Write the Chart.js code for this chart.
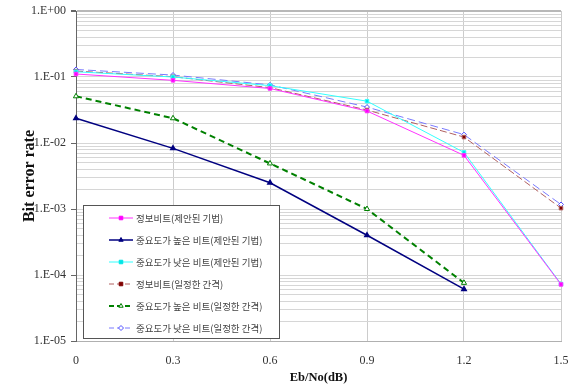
<!DOCTYPE html>
<html>
<head>
<meta charset="utf-8">
<script src="https://cdn.jsdelivr.net/npm/chart.js@4/dist/chart.umd.min.js"></script>
<style>
  html, body { margin: 0; padding: 0; background: #fff; }
  #wrap { position: relative; width: 574px; height: 388px; }
</style>
</head>
<body>
<div id="wrap"><canvas id="c" width="574" height="388"></canvas></div>
<script>
// Eb/No values (dB)
const xValues = [0, 0.3, 0.6, 0.9, 1.2, 1.5];
const xTickLabels = ['0', '0.3', '0.6', '0.9', '1.2', '1.5'];
const yTickLabels = ['1.E-05', '1.E-04', '1.E-03', '1.E-02', '1.E-01', '1.E+00'];

const seriesNames = [
    '정보비트(제안된 기법)',
    '중요도가 높은 비트(제안된 기법)',
    '중요도가 낮은 비트(제안된 기법)',
    '정보비트(일정한 간격)',
    '중요도가 높은 비트(일정한 간격)',
    '중요도가 낮은 비트(일정한 간격)'
];

// bit error rates
const infoProposed = [0.111, 0.089, 0.067, 0.0305, 0.0065, 0.000072];
const highProposed = [0.0237, 0.0083, 0.0025, 0.00040, 0.000061];
const lowProposed = [0.12, 0.100, 0.074, 0.043, 0.0072, 0.000073];
const infoUniform = [0.123, 0.101, 0.069, 0.0316, 0.0123, 0.00103];
const highUniform = [0.051, 0.0237, 0.0049, 0.00100, 0.000076];
const lowUniform = [0.130, 0.107, 0.076, 0.035, 0.0134, 0.00117];

const toPoints = (vals) => vals.map((v, i) => ({ x: xValues[i], y: v }));

const datasets = [
    { label: seriesNames[0], data: toPoints(infoProposed), borderColor: '#ff33ff', backgroundColor: '#ff00ff',
      borderWidth: 1, pointStyle: 'rect', pointRadius: 2.5 },
    { label: seriesNames[1], data: toPoints(highProposed), borderColor: '#000080', backgroundColor: '#000080',
      borderWidth: 1.5, pointStyle: 'triangle', pointRadius: 2.5 },
    { label: seriesNames[2], data: toPoints(lowProposed), borderColor: '#33ffff', backgroundColor: '#00e5e5',
      borderWidth: 1, pointStyle: 'rect', pointRadius: 2.5 },
    { label: seriesNames[3], data: toPoints(infoUniform), borderColor: '#b06060', backgroundColor: '#800000',
      borderWidth: 1, borderDash: [7, 3], pointStyle: 'rect', pointRadius: 2.5 },
    { label: seriesNames[4], data: toPoints(highUniform), borderColor: '#008000', backgroundColor: '#ffffff',
      pointBorderColor: '#008000', borderWidth: 2, borderDash: [6, 4], pointStyle: 'triangle', pointRadius: 3, pointBorderWidth: 1 },
    { label: seriesNames[5], data: toPoints(lowUniform), borderColor: '#7a7aff', backgroundColor: '#ffffff',
      pointBorderColor: '#5050ff', borderWidth: 1, borderDash: [8, 4], pointStyle: 'rectRot', pointRadius: 2.5, pointBorderWidth: 1 }
];

datasets.forEach(d => { d.fill = false; d.tension = 0; d.clip = false; });

// legend drawn inside the plot, like the spreadsheet original
const boxLegend = {
    id: 'boxLegend',
    afterDraw(chart) {
        const ctx = chart.ctx;
        const bx = 83, by = 205, bw = 196, bh = 133;
        ctx.save();
        ctx.fillStyle = '#ffffff';
        ctx.fillRect(bx, by, bw, bh);
        ctx.strokeStyle = '#555555';
        ctx.lineWidth = 1;
        ctx.strokeRect(bx + 0.5, by + 0.5, bw, bh);
        chart.data.datasets.forEach((ds, i) => {
            const y = by + 13 + i * 22;
            ctx.save();
            ctx.strokeStyle = ds.borderColor;
            ctx.lineWidth = ds.borderWidth;
            ctx.setLineDash(ds.borderDash ? [5, 3] : []);
            ctx.beginPath();
            ctx.moveTo(109, y);
            ctx.lineTo(133, y);
            ctx.stroke();
            ctx.restore();
            ctx.save();
            ctx.fillStyle = ds.backgroundColor;
            ctx.strokeStyle = ds.pointBorderColor || ds.backgroundColor;
            ctx.lineWidth = 1;
            Chart.helpers.drawPoint(ctx, { pointStyle: ds.pointStyle, radius: 2.5, rotation: 0, borderWidth: 1 }, 121, y);
            ctx.restore();
            ctx.fillStyle = '#444444';
            ctx.font = '9.5px "Noto Sans CJK KR"';
            ctx.textBaseline = 'middle';
            ctx.fillText(ds.label, 136, y);
        });
        ctx.restore();
    }
};

const isDecade = (v) => Math.abs(Math.log10(v) - Math.round(Math.log10(v))) < 1e-6;

new Chart(document.getElementById('c'), {
    type: 'line',
    data: { datasets },
    plugins: [boxLegend],
    options: {
        responsive: false,
        animation: false,
        devicePixelRatio: 1,
        layout: { padding: { top: 11, right: 13, left: 20, bottom: 3 } },
        plugins: {
            legend: { display: false },
            tooltip: { enabled: false }
        },
        scales: {
            x: {
                type: 'linear',
                min: 0,
                max: 1.5,
                afterBuildTicks: (scale) => { scale.ticks = xValues.map(v => ({ value: v })); },
                afterFit: (scale) => { scale.height = 44; scale.paddingLeft = 0; scale.paddingRight = 0; },
                ticks: {
                    callback: (value, index) => xTickLabels[index],
                    font: { family: '"Liberation Serif"', size: 12 },
                    color: '#333',
                    padding: 13,
                    maxRotation: 0
                },
                grid: { color: '#cccccc', lineWidth: 1, tickLength: 0 },
                border: { color: '#b0b0b0', width: 1 },
                title: {
                    display: true,
                    text: 'Eb/No(dB)',
                    font: { family: '"Liberation Serif"', size: 12.5, weight: 'bold' },
                    color: '#111',
                    padding: { top: 0, bottom: 0 }
                }
            },
            y: {
                type: 'logarithmic',
                min: 1e-5,
                max: 1,
                afterBuildTicks: (scale) => {
                    const t = [];
                    for (let e = -5; e < 0; e++) {
                        for (let s = 1; s < 10; s++) t.push({ value: s * Math.pow(10, e) });
                    }
                    t.push({ value: 1 });
                    scale.ticks = t;
                },
                afterFit: (scale) => { scale.width = 56; scale.paddingTop = 0; scale.paddingBottom = 0; },
                ticks: {
                    autoSkip: false,
                    callback: (value) => {
                        if (!isDecade(value)) return '';
                        const e = Math.round(Math.log10(value));
                        return yTickLabels[e + 5] || '';
                    },
                    font: { family: '"Liberation Serif"', size: 12 },
                    color: '#333',
                    padding: 5
                },
                grid: {
                    color: (ctx) => (ctx.tick && ctx.tick.value === 1) ? '#b8b8b8' : '#d6d6d6',
                    lineWidth: (ctx) => (ctx.tick && ctx.tick.value === 1) ? 2 : 1,
                    tickLength: 5,
                    tickColor: (ctx) => (ctx.tick && isDecade(ctx.tick.value)) ? '#666666' : 'transparent'
                },
                border: { color: '#666666', width: 1 },
                title: {
                    display: true,
                    text: 'Bit error rate',
                    font: { family: '"Liberation Serif"', size: 16, weight: 'bold' },
                    color: '#111',
                    padding: { top: 0, bottom: 0 }
                }
            }
        }
    }
});
</script>
</body>
</html>
